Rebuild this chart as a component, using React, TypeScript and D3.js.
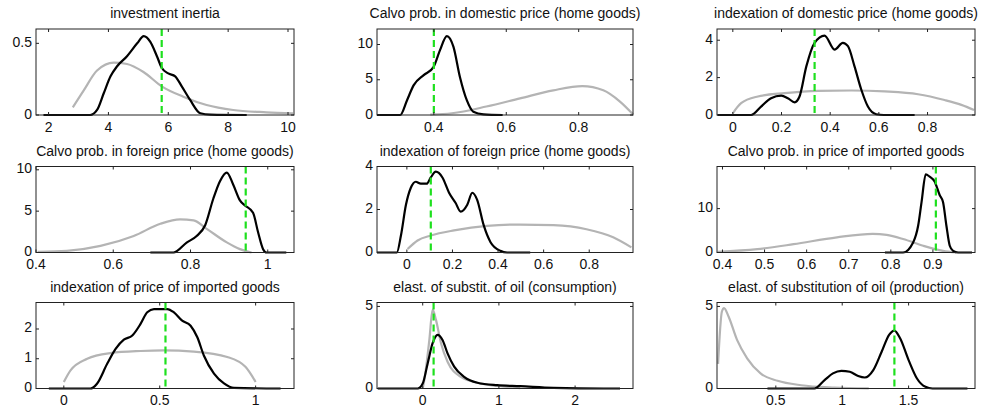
import React from 'react';
import * as d3 from 'd3';

// prior (grey) and posterior (black) densities, green = posterior mode
const titles = [
  'investment inertia',
  'Calvo prob. in domestic price (home goods)',
  'indexation of domestic price (home goods)',
  'Calvo prob. in foreign price (home goods)',
  'indexation of foreign price (home goods)',
  'Calvo prob. in price of imported goods',
  'indexation of price of imported goods',
  'elast. of substit. of oil (consumption)',
  'elast. of substitution of oil (production)',
];

const xDomains = [
  [1.58, 10.2], [0.243, 0.95], [-0.065, 0.995],
  [0.4, 1.068], [-0.131, 0.992], [0.387, 1.0],
  [-0.145, 1.2], [-0.6, 2.76], [0.057, 2.0],
];
const yDomains = [
  [0, 0.6], [0, 12.2], [0, 4.6],
  [0, 10.4], [0, 4], [0, 19.6],
  [0, 2.89], [0, 5.24], [0, 5.24],
];

const xTicks = [
  [2, 4, 6, 8, 10], [0.4, 0.6, 0.8], [0, 0.2, 0.4, 0.6, 0.8],
  [0.4, 0.6, 0.8, 1], [0, 0.2, 0.4, 0.6, 0.8], [0.4, 0.5, 0.6, 0.7, 0.8, 0.9],
  [0, 0.5, 1], [0, 1, 2], [0.5, 1, 1.5],
];
const yTicks = [
  [0, 0.5], [0, 5, 10], [0, 2, 4],
  [0, 5, 10], [0, 2, 4], [0, 10],
  [0, 1, 2], [0, 5], [0, 5],
];

const modes = [5.78, 0.40, 0.336, 0.943, 0.105, 0.907, 0.53, 0.143, 1.393];

const priorInertia = [[2.81, 0.053], [3.17, 0.17], [3.62, 0.31], [4.18, 0.365], [4.62, 0.356], [5.17, 0.3], [5.78, 0.2], [6.5, 0.128], [7.28, 0.07], [8.17, 0.035], [9.28, 0.019], [10.17, 0.012]];
const postInertia = [[1.83, 0], [3.39, 0], [3.62, 0.035], [3.84, 0.15], [4.07, 0.27], [4.29, 0.34], [4.62, 0.41], [4.96, 0.5], [5.18, 0.55], [5.4, 0.51], [5.62, 0.41], [5.78, 0.33], [6.0, 0.29], [6.23, 0.27], [6.45, 0.2], [6.73, 0.105], [7.07, 0.012], [7.4, 0.003], [8.62, 0]];

const priorCalvoDom = [[0.39, 0.05], [0.45, 0.25], [0.545, 1.2], [0.638, 2.36], [0.73, 3.5], [0.81, 4.1], [0.868, 3.5], [0.914, 1.9], [0.95, 0.1]];
const postCalvoDom = [[0.243, 0], [0.307, 0], [0.326, 2.1], [0.344, 4.2], [0.372, 5.66], [0.399, 6.8], [0.417, 9.2], [0.436, 11.2], [0.454, 9.7], [0.472, 5.4], [0.491, 2.1], [0.509, 0.47], [0.537, 0.1], [0.59, 0]];

const priorIndexDom = [[0.0, 0.09], [0.034, 0.63], [0.103, 0.99], [0.213, 1.17], [0.35, 1.29], [0.487, 1.31], [0.624, 1.26], [0.761, 1.11], [0.87, 0.8], [0.939, 0.54], [0.991, 0.27]];
const postIndexDom = [[-0.062, 0], [0.075, 0], [0.116, 0.45], [0.157, 0.9], [0.199, 1.04], [0.226, 0.9], [0.254, 0.68], [0.274, 0.99], [0.302, 2.6], [0.336, 3.86], [0.377, 4.25], [0.418, 3.5], [0.452, 3.86], [0.473, 3.68], [0.5, 2.6], [0.528, 1.35], [0.555, 0.45], [0.589, 0.04], [0.62, 0], [0.747, 0]];

const priorCalvoFor = [[0.404, 0.08], [0.48, 0.2], [0.567, 0.8], [0.653, 2.0], [0.722, 3.47], [0.773, 4.0], [0.808, 3.88], [0.842, 2.86], [0.894, 1.22], [0.928, 0.41], [0.958, 0]];
const postCalvoFor = [[0.696, 0], [0.756, 0], [0.79, 1.2], [0.816, 2], [0.838, 3.3], [0.859, 6.5], [0.876, 8.6], [0.894, 9.67], [0.911, 8.16], [0.928, 6.3], [0.941, 5.7], [0.962, 4.8], [0.975, 2.45], [0.988, 0.4], [0.997, 0], [1.048, 0]];

const priorIndexFor = [[0.003, 0.16], [0.047, 0.56], [0.105, 0.79], [0.207, 1.03], [0.352, 1.24], [0.497, 1.3], [0.643, 1.27], [0.788, 1.08], [0.905, 0.71], [0.985, 0.24]];
const postIndexFor = [[-0.131, 0], [-0.044, 0], [-0.026, 0.79], [-0.004, 2.22], [0.017, 3.0], [0.039, 3.29], [0.061, 3.2], [0.087, 3.2], [0.105, 3.49], [0.127, 3.76], [0.156, 3.49], [0.185, 2.78], [0.214, 2.3], [0.236, 1.9], [0.265, 2.22], [0.287, 2.78], [0.308, 2.46], [0.337, 1.27], [0.367, 0.48], [0.41, 0.08], [0.44, 0], [0.541, 0]];

const priorCalvoImp = [[0.388, 0.15], [0.483, 0.77], [0.569, 1.9], [0.672, 3.46], [0.757, 4.23], [0.79, 4.0], [0.829, 3.08], [0.877, 1.54], [0.924, 0.38], [0.955, 0]];
const postCalvoImp = [[0.786, 0], [0.829, 0], [0.853, 2.3], [0.865, 6.15], [0.873, 11.5], [0.883, 17.8], [0.892, 17.3], [0.904, 16.2], [0.916, 13.1], [0.924, 11.5], [0.932, 6.15], [0.94, 1.54], [0.948, 0.38], [0.96, 0], [0.993, 0]];

const priorIndexImp = [[0.0, 0.22], [0.035, 0.61], [0.122, 1.0], [0.243, 1.19], [0.4, 1.26], [0.522, 1.28], [0.678, 1.24], [0.852, 1.06], [0.948, 0.72], [1.0, 0.22]];
const postIndexImp = [[-0.078, 0], [0.139, 0], [0.174, 0.17], [0.226, 0.83], [0.27, 1.33], [0.313, 1.64], [0.357, 1.78], [0.4, 2.17], [0.435, 2.56], [0.47, 2.67], [0.539, 2.67], [0.574, 2.56], [0.617, 2.28], [0.661, 2.11], [0.696, 1.72], [0.73, 1.11], [0.783, 0.5], [0.835, 0.17], [0.887, 0.02], [1.13, 0]];

const priorOilCons = [[0.0, 0], [0.02, 0.5], [0.087, 2.96], [0.13, 4.8], [0.174, 4.18], [0.24, 2.76], [0.326, 1.63], [0.5, 0.71], [0.76, 0.31], [1.11, 0.1], [1.28, 0.02]];
const postOilCons = [[-0.59, 0], [-0.065, 0], [0.0, 0.3], [0.065, 1.53], [0.13, 2.76], [0.196, 3.27], [0.26, 2.96], [0.326, 2.14], [0.413, 1.33], [0.543, 0.71], [0.717, 0.35], [0.978, 0.2], [1.28, 0.14], [1.717, 0.04], [2.37, 0], [2.59, 0]];

const priorOilProd = [[0.065, 1.5], [0.094, 4.69], [0.11, 4.9], [0.144, 4.39], [0.208, 2.96], [0.284, 1.84], [0.385, 0.92], [0.513, 0.47], [0.69, 0.2], [0.943, 0.06], [1.2, 0.01]];
const postOilProd = [[0.437, 0], [0.791, 0], [0.867, 0.51], [0.93, 0.92], [0.994, 1.08], [1.057, 1.02], [1.12, 0.76], [1.17, 0.67], [1.234, 1.12], [1.297, 2.24], [1.353, 3.27], [1.393, 3.53], [1.436, 3.06], [1.5, 1.73], [1.563, 0.61], [1.627, 0.1], [1.68, 0], [1.943, 0]];

const priors = [priorInertia, priorCalvoDom, priorIndexDom, priorCalvoFor, priorIndexFor, priorCalvoImp, priorIndexImp, priorOilCons, priorOilProd];
const posts = [postInertia, postCalvoDom, postIndexDom, postCalvoFor, postIndexFor, postCalvoImp, postIndexImp, postOilCons, postOilProd];

const colLeft = [36, 377, 717];
const colRight = [294, 633, 975];
const rowTop = [29, 166.5, 302.5];
const boxH = 86;
const font = 'Liberation Sans, Arial, sans-serif';

function Panel({ i }: { i: number }) {
  const col = i % 3;
  const row = Math.floor(i / 3);
  const x0 = colLeft[col];
  const x1 = colRight[col];
  const y0 = rowTop[row];
  const y1 = y0 + boxH;

  const x = d3.scaleLinear().domain(xDomains[i]).range([x0, x1]);
  const y = d3.scaleLinear().domain(yDomains[i]).range([y1, y0]);
  const line = d3
    .line<number[]>()
    .x(d => x(d[0]))
    .y(d => y(d[1]))
    .curve(d3.curveMonotoneX);

  const tickLen = 3;
  return (
    <g>
      <text x={(x0 + x1) / 2} y={y0 - 11} textAnchor="middle" fontSize={14} fontFamily={font} fill="#111">
        {titles[i]}
      </text>
      <path d={line(priors[i]) || ''} fill="none" stroke="#b4b4b4" strokeWidth={2.2} />
      <path d={line(posts[i]) || ''} fill="none" stroke="#000" strokeWidth={2.2} />
      <line x1={x(modes[i])} x2={x(modes[i])} y1={y0} y2={y1} stroke="#1ee01e" strokeWidth={2.2} strokeDasharray="7,4" />
      <rect x={x0} y={y0} width={x1 - x0} height={boxH} fill="none" stroke="#222" strokeWidth={1} />
      {xTicks[i].map(t => (
        <g key={'x' + t}>
          <line x1={x(t)} x2={x(t)} y1={y1} y2={y1 - tickLen} stroke="#222" />
          <line x1={x(t)} x2={x(t)} y1={y0} y2={y0 + tickLen} stroke="#222" />
          <text x={x(t)} y={y1 + 16.5} textAnchor="middle" fontSize={14} fontFamily={font} fill="#111">
            {String(t)}
          </text>
        </g>
      ))}
      {yTicks[i].map(t => (
        <g key={'y' + t}>
          <line x1={x0} x2={x0 + tickLen} y1={y(t)} y2={y(t)} stroke="#222" />
          <line x1={x1} x2={x1 - tickLen} y1={y(t)} y2={y(t)} stroke="#222" />
          <text x={x0 - 4} y={y(t) + 3.5} textAnchor="end" fontSize={14} fontFamily={font} fill="#111">
            {String(t)}
          </text>
        </g>
      ))}
    </g>
  );
}

export default function App() {
  return (
    <svg width={981} height={414} style={{ position: 'absolute', left: 0, top: 0, background: '#fff' }}>
      <rect width={981} height={414} fill="#fff" />
      {titles.map((_, i) => (
        <Panel key={i} i={i} />
      ))}
    </svg>
  );
}
